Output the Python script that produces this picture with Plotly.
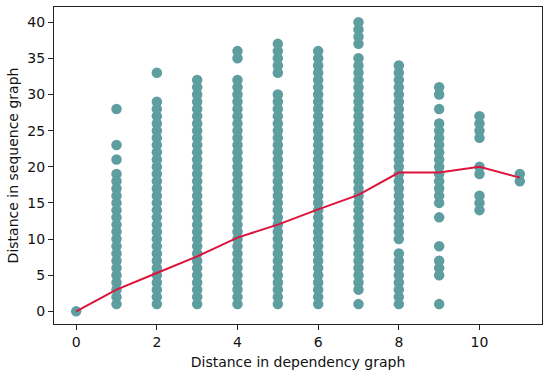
import plotly.graph_objects as go

# Distance in dependency graph (x) -> observed distances in sequence graph (y)
dep_dist = [0, 1, 2, 3, 4, 5, 6, 7, 8, 9, 10, 11]

seq_d0 = [0]
seq_d1 = [1, 2, 3, 4, 5, 6, 7, 8, 9, 10, 11, 12, 13, 14, 15, 16, 17, 18, 19, 21, 23, 28]
seq_d2 = [1, 2, 3, 4, 5, 6, 7, 8, 9, 10, 11, 12, 13, 14, 15, 16, 17, 18, 19, 20,
          21, 22, 23, 24, 25, 26, 27, 28, 29, 33]
seq_d3 = [1, 2, 3, 4, 5, 6, 7, 8, 9, 10, 11, 12, 13, 14, 15, 16, 17, 18, 19, 20,
          21, 22, 23, 24, 25, 26, 27, 28, 29, 30, 31, 32]
seq_d4 = [1, 2, 3, 4, 5, 6, 7, 8, 9, 10, 11, 12, 13, 14, 15, 16, 17, 18, 19, 20,
          21, 22, 23, 24, 25, 26, 27, 28, 29, 30, 31, 32, 35, 36]
seq_d5 = [1, 2, 3, 4, 5, 6, 7, 8, 9, 10, 11, 12, 13, 14, 15, 16, 17, 18, 19, 20,
          21, 22, 23, 24, 25, 26, 27, 28, 29, 30, 33, 34, 35, 36, 37]
seq_d6 = [1, 2, 3, 4, 5, 6, 7, 8, 9, 10, 11, 12, 13, 14, 15, 16, 17, 18, 19, 20,
          21, 22, 23, 24, 25, 26, 27, 28, 29, 30, 31, 32, 33, 34, 35, 36]
seq_d7 = [1, 3, 4, 5, 6, 7, 8, 9, 10, 11, 12, 13, 14, 15, 16, 17, 18, 19, 20,
          21, 22, 23, 24, 25, 26, 27, 28, 29, 30, 31, 32, 33, 34, 35, 37, 38, 39, 40]
seq_d8 = [1, 2, 3, 4, 5, 6, 7, 8, 10, 11, 12, 13, 14, 15, 16, 17, 18, 19, 20,
          21, 22, 23, 24, 25, 26, 27, 28, 29, 30, 31, 32, 33, 34]
seq_d9 = [1, 5, 6, 7, 9, 13, 15, 16, 17, 18, 19, 20, 21, 22, 23, 24, 25, 26, 28, 30, 31]
seq_d10 = [14, 15, 16, 19, 20, 24, 25, 26, 27]
seq_d11 = [18, 19]

seq_by_dep = [seq_d0, seq_d1, seq_d2, seq_d3, seq_d4, seq_d5, seq_d6,
              seq_d7, seq_d8, seq_d9, seq_d10, seq_d11]

# Red line (average distance)
mean_seq = [0.0, 3.0, 5.3, 7.6, 10.2, 12.0, 14.1, 16.1, 19.2, 19.2, 20.0, 18.5]

x_tick_vals = [0, 2, 4, 6, 8, 10]
y_tick_vals = [0, 5, 10, 15, 20, 25, 30, 35, 40]

xs, ys = [], []
for d, vals in zip(dep_dist, seq_by_dep):
    for v in vals:
        xs.append(d)
        ys.append(v)

FONT = "DejaVu Sans"
FS = 14

fig = go.Figure()
fig.add_trace(go.Scatter(
    x=xs, y=ys, mode="markers",
    marker=dict(color="#5F9EA0", size=10.5, line=dict(width=0)),
    showlegend=False, hoverinfo="skip",
))
fig.add_trace(go.Scatter(
    x=dep_dist, y=mean_seq, mode="lines",
    line=dict(color="#DC143C", width=2),
    showlegend=False,
))

axis_common = dict(
    showline=True, linecolor="#222222", linewidth=1.2, mirror=True,
    ticks="outside", ticklen=5, tickwidth=1, tickcolor="#222222",
    showgrid=False, zeroline=False, automargin=False,
    tickfont=dict(family=FONT, size=FS, color="#111111"),
)

fig.update_layout(
    width=550, height=375,
    margin=dict(l=54, r=8, t=7, b=51),
    paper_bgcolor="white", plot_bgcolor="white",
    font=dict(family=FONT, size=FS, color="#111111"),
    xaxis=dict(
        range=[-0.55, 11.55], tickvals=x_tick_vals,
        title=dict(text="Distance in dependency graph", font=dict(family=FONT, size=FS), standoff=8),
        **axis_common,
    ),
    yaxis=dict(
        range=[-1.75, 42.1], tickvals=y_tick_vals,
        title=dict(text="Distance in sequence graph", font=dict(family=FONT, size=FS), standoff=5),
        **axis_common,
    ),
)

fig.write_html(
    "out.html",
    config={"displayModeBar": False},
    post_script="document.body.style.margin='0';document.body.style.padding='0';",
)
